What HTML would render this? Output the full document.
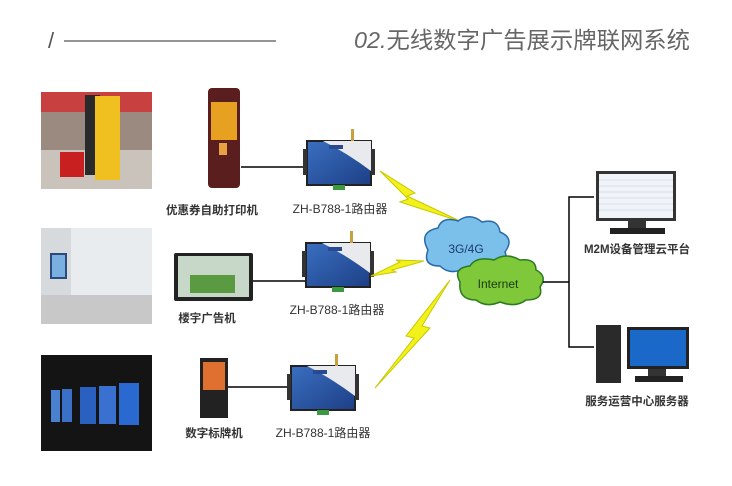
<!DOCTYPE html>
<html><head><meta charset="utf-8"><style>
body{margin:0;background:#fff;width:732px;height:481px;overflow:hidden;font-family:"Liberation Sans","Noto Sans CJK SC",sans-serif}
</style></head><body>
<svg width="732" height="481" viewBox="0 0 732 481" xmlns="http://www.w3.org/2000/svg" font-family="Liberation Sans, Noto Sans CJK SC, sans-serif">
<defs>
<linearGradient id="rt" x1="0" y1="0" x2="1" y2="1"><stop offset="0" stop-color="#3a6fc0"/><stop offset="1" stop-color="#1d3f86"/></linearGradient>
<g id="router">
<rect x="0" y="0" width="64" height="44" fill="url(#rt)" stroke="#222" stroke-width="2"/>
<path d="M16 0 H64 V30 Q40 12 16 0Z" fill="#e8eaee"/>
<rect x="-4" y="8" width="4" height="26" fill="#333"/><rect x="64" y="8" width="4" height="26" fill="#333"/>
<rect x="44" y="-12" width="3" height="12" fill="#c9a040"/>
<rect x="26" y="44" width="12" height="5" fill="#3a9a40"/>
<rect x="22" y="4" width="14" height="4" fill="#2a4a90"/>
</g>
</defs>
<!-- header -->
<text x="48" y="48" font-size="22" fill="#555">/</text>
<line x1="64" y1="41" x2="276" y2="41" stroke="#555" stroke-width="1.2"/>
<text x="354" y="48" font-size="23" fill="#666" textLength="336" lengthAdjust="spacingAndGlyphs"><tspan font-style="italic">02.</tspan>无线数字广告展示牌联网系统</text>
<!-- photos -->
<rect x="41" y="92" width="111" height="97" fill="#9a8a80"/>
<rect x="41" y="92" width="111" height="20" fill="#c84040"/>
<rect x="41" y="150" width="111" height="39" fill="#c9c3bc"/>
<rect x="85" y="95" width="15" height="80" fill="#2a2a2a"/>
<rect x="95" y="96" width="25" height="84" fill="#f0c020"/>
<rect x="60" y="152" width="24" height="25" fill="#c82020"/>
<rect x="41" y="228" width="111" height="96" fill="#e8ecef"/>
<rect x="41" y="228" width="30" height="96" fill="#d7dadc"/>
<rect x="50" y="253" width="17" height="26" fill="#2a4a80"/>
<rect x="52" y="255" width="13" height="22" fill="#7ab0e0"/>
<rect x="41" y="295" width="111" height="29" fill="#c8c8c8"/>
<rect x="41" y="355" width="111" height="96" fill="#141414"/>
<rect x="51" y="390" width="9" height="32" fill="#4a80d0"/>
<rect x="62" y="389" width="10" height="33" fill="#3a70c8"/>
<rect x="80" y="387" width="16" height="37" fill="#2a60c0"/>
<rect x="99" y="386" width="17" height="38" fill="#3a70d0"/>
<rect x="119" y="383" width="20" height="42" fill="#2a6ad0"/>
<!-- devices -->
<rect x="208" y="88" width="32" height="100" rx="4" fill="#5a1e1e"/>
<rect x="211" y="102" width="26" height="38" fill="#e8a020"/>
<rect x="219" y="143" width="8" height="12" fill="#e8a040"/>
<rect x="174" y="253" width="79" height="48" rx="2" fill="#222"/>
<rect x="178" y="256" width="71" height="41" fill="#c8d8c8"/>
<rect x="190" y="275" width="45" height="18" fill="#5a9a40"/>
<rect x="200" y="358" width="28" height="60" fill="#222"/>
<rect x="203" y="362" width="22" height="28" fill="#e07030"/>
<text x="212" y="214" font-size="11.5" font-weight="bold" fill="#333" text-anchor="middle">优惠券自助打印机</text>
<text x="207" y="322" font-size="11.5" font-weight="bold" fill="#333" text-anchor="middle">楼宇广告机</text>
<text x="214" y="437" font-size="11.5" font-weight="bold" fill="#333" text-anchor="middle">数字标牌机</text>
<!-- lines -->
<line x1="241" y1="167" x2="308" y2="167" stroke="#000" stroke-width="1.5"/>
<line x1="253" y1="281" x2="306" y2="281" stroke="#000" stroke-width="1.5"/>
<line x1="228" y1="387" x2="292" y2="387" stroke="#000" stroke-width="1.5"/>
<!-- routers -->
<use href="#router" x="307" y="141"/>
<use href="#router" x="306" y="243"/>
<use href="#router" x="291" y="366"/>
<text x="340" y="213" font-size="12" fill="#333" text-anchor="middle">ZH-B788-1路由器</text>
<text x="337" y="314" font-size="12" fill="#333" text-anchor="middle">ZH-B788-1路由器</text>
<text x="323" y="437" font-size="12" fill="#333" text-anchor="middle">ZH-B788-1路由器</text>
<!-- bolts -->
<polygon points="380,171 415,193 407,196 462,222 400,202 408,199" fill="#f2f21a" stroke="#c8c800"/>
<polygon points="371,276 400,262 396,260 424,261 392,270 396,272" fill="#f2f21a" stroke="#c8c800"/>
<polygon points="375,388 414,338 406,336 450,280 422,326 430,328" fill="#f2f21a" stroke="#c8c800"/>
<!-- clouds -->
<path d="M428 250 Q418 232 438 228 Q442 216 458 221 Q470 212 482 222 Q498 218 500 232 Q515 238 505 252 Q510 265 492 266 Q482 276 466 268 Q450 276 440 266 Q422 266 428 250Z" fill="#7ac0ea" stroke="#2a6aa8" stroke-width="1.5"/>
<text x="466" y="253" font-size="12" fill="#1a3a70" text-anchor="middle">3G/4G</text>
<path d="M460 282 Q452 268 470 266 Q476 256 494 260 Q506 252 520 260 Q536 258 536 270 Q548 276 540 287 Q544 300 526 300 Q516 308 500 302 Q486 308 476 300 Q458 300 460 282Z" fill="#7ec83a" stroke="#2a7a20" stroke-width="1.5"/>
<text x="498" y="288" font-size="12" fill="#1a3a10" text-anchor="middle">Internet</text>
<!-- right lines -->
<polyline points="543,282 569,282" stroke="#000" stroke-width="1.5" fill="none"/>
<polyline points="594,197 569,197 569,347 594,347" stroke="#000" stroke-width="1.5" fill="none"/>
<!-- monitor 1 -->
<rect x="596" y="171" width="80" height="50" fill="#333"/>
<rect x="599" y="174" width="74" height="44" fill="#f0f4f8"/>
<g stroke="#b8c8d8" stroke-width="0.6"><line x1="599" y1="180" x2="673" y2="180"/><line x1="599" y1="186" x2="673" y2="186"/><line x1="599" y1="192" x2="673" y2="192"/><line x1="599" y1="198" x2="673" y2="198"/><line x1="599" y1="204" x2="673" y2="204"/><line x1="599" y1="210" x2="673" y2="210"/></g>
<rect x="628" y="221" width="18" height="8" fill="#333"/>
<rect x="610" y="228" width="55" height="6" fill="#222"/>
<text x="637" y="253" font-size="11.5" font-weight="bold" fill="#333" text-anchor="middle">M2M设备管理云平台</text>
<!-- server -->
<rect x="596" y="325" width="25" height="58" fill="#2a2a2a"/>
<rect x="627" y="327" width="62" height="42" fill="#222"/>
<rect x="630" y="330" width="56" height="36" fill="#1a68c8"/>
<rect x="648" y="369" width="18" height="8" fill="#333"/>
<rect x="635" y="376" width="48" height="6" fill="#222"/>
<text x="637" y="405" font-size="11.5" font-weight="bold" fill="#333" text-anchor="middle">服务运营中心服务器</text>
</svg>
</body></html>
